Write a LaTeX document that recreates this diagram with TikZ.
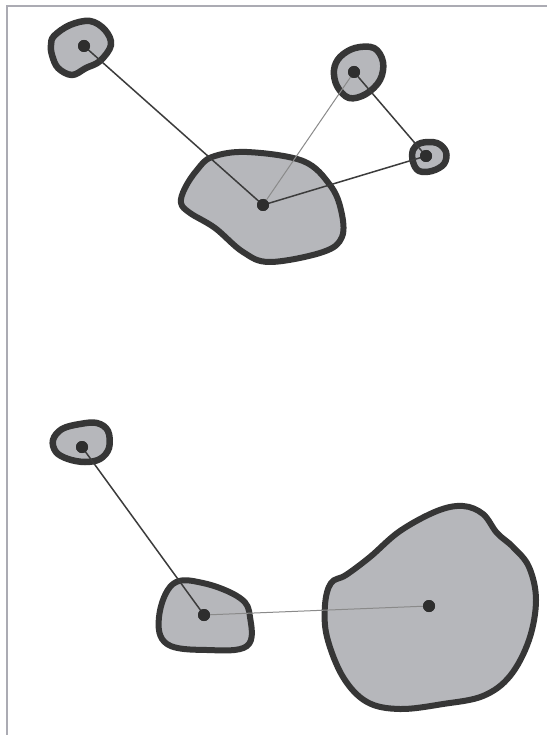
\documentclass[tikz,border=0pt]{standalone}
\begin{document}
\begin{tikzpicture}[x=1pt,y=-1pt,
  blob/.style={draw=blobline,fill=blobfill,line width=6pt,line join=round},
  smallblob/.style={blob,line width=6.5pt},
  hub/.style={circle,fill=dotcol,inner sep=0pt,minimum size=12pt},
  link/.style={draw=linkdark,line width=1.5pt},
  thinlink/.style={draw=linklight,line width=1pt},
  frame/.style={draw=framecol,line width=2pt}]
\definecolor{blobline}{HTML}{363636}
\definecolor{blobfill}{HTML}{B6B7BB}
\definecolor{dotcol}{HTML}{2E2E2E}
\definecolor{linkdark}{HTML}{3C3C3C}
\definecolor{linklight}{HTML}{8A8A8A}
\definecolor{framecol}{HTML}{ABABB3}
\useasboundingbox (0,0) rectangle (547,735);
\fill[white] (0,0) rectangle (547,735);
% frame lines along the top and left
\draw[frame] (7,735) -- (7,6) -- (547,6);

% upper group of regions
\path[smallblob] plot[smooth cycle,tension=0.6] coordinates {
  (54,36) (70,25) (90,21) (105,30) (111,45) (100,61) (86,68) (72,75) (58,68) (52,55) (51,45)};
\path[smallblob] plot[smooth cycle,tension=0.6] coordinates {
  (340,57) (355,48) (374,48) (383,62) (380,80) (366,94) (349,98) (337,86) (334,70)};
\path[smallblob] plot[smooth cycle,tension=0.6] coordinates {
  (413,150) (421,143) (437,143) (446,152) (444,164) (432,171) (419,171) (413,162)};
\path[blob] plot[smooth cycle,tension=0.6] coordinates {
  (212,157) (247,152) (303,161) (330,185) (341,210) (342,237) (323,252) (270,262) (243,252)
  (215,228) (190,213) (181,203) (185,188) (197,170)};

% lower group of regions
\path[smallblob] plot[smooth cycle,tension=0.6] coordinates {
  (53,440) (62,429) (80,424) (97,423) (108,431) (109,448) (100,459) (85,462) (68,459) (56,452)};
\path[blob] plot[smooth cycle,tension=0.65] coordinates {
  (173,584) (203,583) (240,598) (250,617) (247,646) (207,650) (167,644) (159,617)};
\path[blob] plot[smooth cycle,tension=0.6] coordinates {
  (331,583) (346,575) (370,557) (400,531) (437,511) (463,506) (483,514) (497,533) (513,547) (529,567)
  (536,600) (529,640) (510,676) (483,696) (443,704) (400,709) (367,702) (343,677) (327,637) (325,605)};

% centre points
\node[hub] (a) at (84,46) {};
\node[hub] (b) at (263,205) {};
\node[hub] (c) at (354,72) {};
\node[hub] (d) at (426,156) {};
\node[hub] (e) at (82,447) {};
\node[hub] (f) at (204,615) {};
\node[hub] (g) at (429,606) {};

% connectors
\draw[link] (a.center) -- (b.center);
\draw[thinlink] (c.center) -- (b.center);
\draw[link] (c.center) -- (d.center);
\draw[link] (d.center) -- (b.center);
\draw[link] (e.center) -- (f.center);
\draw[thinlink] (f.center) -- (g.center);

% redraw the points over the connectors
\foreach \n in {a,b,c,d,e,f,g} \fill[dotcol] (\n) circle[radius=6pt];
\end{tikzpicture}
\end{document}
